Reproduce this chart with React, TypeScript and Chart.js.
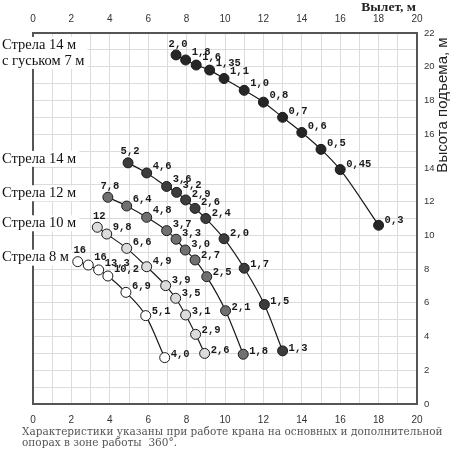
import React, { useRef, useEffect } from 'react';
import { Chart, registerables } from 'chart.js';

Chart.register(...registerables);

// reach (m) and hook height (m) for each boom, with load (t) at every point
const jibReach = [7.45, 7.95, 8.5, 9.2, 9.95, 11, 12, 13, 14, 15, 16, 18];
const jibHeight = [20.7, 20.4, 20.1, 19.8, 19.3, 18.6, 17.9, 17.0, 16.1, 15.1, 13.9, 10.6];
const jibLoad = [2.0, 1.8, 1.6, 1.35, 1.1, 1.0, 0.8, 0.7, 0.6, 0.5, 0.45, 0.3];

const boom14Reach = [4.95, 5.92, 6.96, 7.48, 7.95, 8.44, 9.0, 9.95, 11, 12.05, 13];
const boom14Height = [14.3, 13.7, 12.9, 12.55, 12.1, 11.6, 11.0, 9.8, 8.05, 5.9, 3.15];
const boom14Load = [5.2, 4.6, 3.6, 3.2, 2.9, 2.6, 2.4, 2.0, 1.7, 1.5, 1.3];

const boom12Reach = [3.9, 4.88, 5.92, 6.96, 7.45, 7.93, 8.44, 9.05, 10.03, 10.95];
const boom12Height = [12.26, 11.74, 11.07, 10.28, 9.77, 9.13, 8.54, 7.55, 5.53, 2.95];
const boom12Load = [7.8, 6.4, 4.8, 3.7, 3.3, 3.0, 2.7, 2.5, 2.1, 1.8];

const boom10Reach = [3.35, 3.84, 4.88, 5.92, 6.91, 7.43, 7.95, 8.47, 8.94];
const boom10Height = [10.48, 10.08, 9.23, 8.14, 7.02, 6.27, 5.28, 4.13, 3.0];
const boom10Load = [12, 9.8, 6.6, 4.9, 3.9, 3.5, 3.1, 2.9, 2.6];

const boom8Reach = [2.33, 2.88, 3.42, 3.9, 4.84, 5.87, 6.86];
const boom8Height = [8.44, 8.24, 7.95, 7.59, 6.62, 5.24, 2.75];
const boom8Load = [16, 16, 13.3, 10.2, 6.9, 5.1, 4.0];

const seriesNames = [
  ['Стрела 14 м', 'с гуськом 7 м'],
  ['Стрела 14 м'],
  ['Стрела 12 м'],
  ['Стрела 10 м'],
  ['Стрела 8 м'],
];
const seriesFill = ['#262626', '#3c3c3c', '#707070', '#dcdcdc', '#ffffff'];

const xTitle = 'Вылет, м';
const yTitle = 'Высота подъема, м';
const footnote = [
  'Характеристики указаны при работе крана на основных и дополнительной',
  'опорах в зоне работы  360°.',
];

const fmtLoad = (v: number) => {
  if (Number.isInteger(v) && v >= 10) return String(v);
  const digits = Math.round(v * 100) % 10 ? 2 : 1;
  return v.toFixed(digits).replace('.', ',');
};

const series = [
  { reach: jibReach, height: jibHeight, load: jibLoad },
  { reach: boom14Reach, height: boom14Height, load: boom14Load },
  { reach: boom12Reach, height: boom12Height, load: boom12Load },
  { reach: boom10Reach, height: boom10Height, load: boom10Load },
  { reach: boom8Reach, height: boom8Height, load: boom8Load },
];

const evenOnly = (v: any) => (Number(v) % 2 === 0 ? String(v) : '');

const annotations = {
  id: 'annotations',
  beforeDatasetsDraw(chart: any) {
    const { ctx, chartArea } = chart;
    ctx.save();
    ctx.strokeStyle = '#555';
    ctx.lineWidth = 2;
    ctx.strokeRect(chartArea.left, chartArea.top, chartArea.right - chartArea.left, chartArea.bottom - chartArea.top);
    ctx.restore();
  },
  afterDatasetsDraw(chart: any) {
    const { ctx } = chart;
    ctx.save();
    // load labels
    ctx.font = 'bold 10.5px "Liberation Mono", monospace';
    ctx.fillStyle = '#1a1a1a';
    ctx.textBaseline = 'middle';
    series.forEach((s, i) => {
      const pts = chart.getDatasetMeta(i).data;
      pts.forEach((p: any, j: number) => {
        const txt = fmtLoad(s.load[j]);
        if (j === 0) {
          ctx.textAlign = 'center';
          ctx.fillText(txt, p.x + 2, p.y - 11);
          return;
        }
        const a = pts[j - 1];
        const b = pts[Math.min(j + 1, pts.length - 1)];
        let tx = b.x - a.x;
        let ty = b.y - a.y;
        const len = Math.hypot(tx, ty) || 1;
        tx /= len;
        ty /= len;
        ctx.textAlign = 'left';
        ctx.fillText(txt, p.x + 6, p.y - tx * 8);
      });
    });

    // boom names on the left
    ctx.font = '14.5px "Liberation Serif", serif';
    ctx.textAlign = 'left';
    const yScale = chart.scales.y;
    seriesNames.forEach((lines, i) => {
      const cy = yScale.getPixelForValue(series[i].height[0]) - (lines.length > 1 ? 2 : 4);
      const lh = 16;
      const top = cy - (lines.length * lh) / 2;
      const w = Math.max(...lines.map((l) => ctx.measureText(l).width));
      ctx.fillStyle = '#ffffff';
      ctx.fillRect(0, top, w + 5, lines.length * lh);
      ctx.fillStyle = '#111';
      lines.forEach((l, k) => ctx.fillText(l, 2, top + lh * k + lh / 2));
    });

    // titles
    ctx.fillStyle = '#222';
    ctx.font = 'bold 13.5px "Liberation Serif", serif';
    ctx.textAlign = 'right';
    ctx.fillText(xTitle, 416, 8);

    ctx.save();
    ctx.translate(443, 105);
    ctx.rotate(-Math.PI / 2);
    ctx.textAlign = 'center';
    ctx.font = '15px "Liberation Sans", sans-serif';
    ctx.fillText(yTitle, 0, 0);
    ctx.restore();

    // footnote, sized so the first line spans the chart width
    ctx.fillStyle = '#555';
    ctx.textAlign = 'left';
    ctx.font = '10px "DejaVu Serif", serif';
    const size = (10 * 421) / ctx.measureText(footnote[0]).width;
    ctx.font = `${size.toFixed(2)}px "DejaVu Serif", serif`;
    ctx.fillText(footnote[0], 22, 432);
    ctx.fillText(footnote[1], 22, 443);
    ctx.restore();
  },
};

const App: React.FC = () => {
  const canvasRef = useRef<HTMLCanvasElement | null>(null);
  const chartRef = useRef<Chart | null>(null);

  useEffect(() => {
    if (!canvasRef.current) return;
    const ctx = canvasRef.current.getContext('2d');
    if (!ctx) return;
    if (chartRef.current) chartRef.current.destroy();

    const tickFont = { family: '"Liberation Sans", sans-serif', size: 10 };

    chartRef.current = new Chart(ctx, {
      type: 'line',
      data: {
        datasets: series.map((s, i) => ({
          label: seriesNames[i].join(' '),
          data: s.reach.map((x, j) => ({ x, y: s.height[j] })),
          borderColor: '#1a1a1a',
          borderWidth: 1.2,
          pointRadius: 5,
          pointBackgroundColor: seriesFill[i],
          pointBorderColor: '#1a1a1a',
          pointBorderWidth: 1,
          cubicInterpolationMode: 'monotone' as const,
          fill: false,
        })),
      },
      options: {
        responsive: false,
        animation: false,
        layout: { padding: { left: 33, top: 0, right: 0, bottom: 0 } },
        plugins: {
          legend: { display: false },
          tooltip: { enabled: false },
        },
        scales: {
          x: {
            type: 'linear',
            position: 'top',
            min: 0,
            max: 20,
            border: { display: false },
            grid: { color: '#dcdcdc', drawTicks: false, lineWidth: 1 },
            ticks: { stepSize: 1, autoSkip: false, maxRotation: 0, padding: 8, color: '#333', font: tickFont, callback: evenOnly },
            afterFit: (s: any) => { s.height = 33; },
          },
          x2: {
            type: 'linear',
            position: 'bottom',
            min: 0,
            max: 20,
            border: { display: false },
            grid: { display: false, drawTicks: false },
            ticks: { stepSize: 2, autoSkip: false, maxRotation: 0, padding: 10, color: '#333', font: tickFont },
            afterFit: (s: any) => { s.height = 46; },
          },
          y: {
            type: 'linear',
            position: 'right',
            min: 0,
            max: 22,
            border: { display: false },
            grid: { color: '#dcdcdc', drawTicks: false, lineWidth: 1 },
            ticks: { stepSize: 1, autoSkip: false, padding: 7, color: '#333', font: { ...tickFont, size: 9.5 }, callback: evenOnly },
            afterFit: (s: any) => { s.width = 33; },
          },
        },
      },
      plugins: [annotations],
    });

    return () => {
      if (chartRef.current) {
        chartRef.current.destroy();
        chartRef.current = null;
      }
    };
  }, []);

  return (
    <div style={{ position: 'absolute', left: 0, top: 0, width: 450, height: 450, background: '#fff' }}>
      <canvas ref={canvasRef} width={450} height={450}></canvas>
    </div>
  );
};

export default App;
